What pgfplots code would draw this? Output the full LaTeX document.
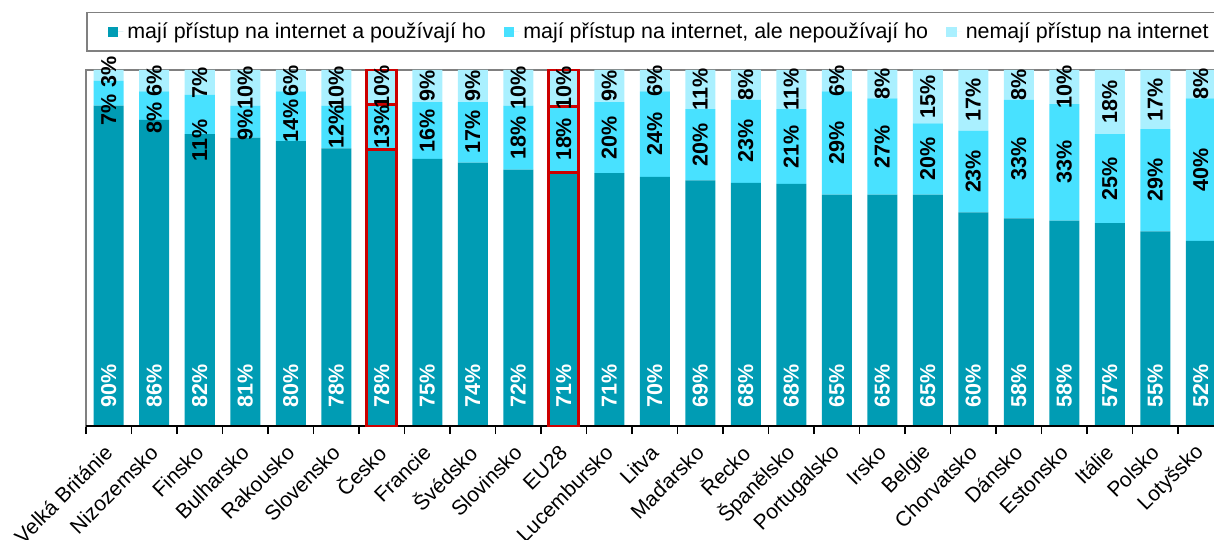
\documentclass[border=0pt]{standalone}
\usepackage{pgfplots}
\pgfplotsset{compat=1.18}
\usepackage{pgfplotstable}
\usepackage{fontspec}
\setmainfont{Liberation Sans}
\definecolor{cdark}{RGB}{0,156,180}
\definecolor{cmid}{RGB}{72,225,255}
\definecolor{clight}{RGB}{170,240,255}
\definecolor{cred}{RGB}{204,0,0}
\pgfplotstableread{
x a b c d e
0 90 7 3 -8.5 1.5
1 86 8 6 -6 0
2 82 11 7 -13 0
3 81 9 10 -1.5 0
4 80 14 6 -2.5 0
5 78 12 10 0 0
6 77.6 12.8 9.6 0 0
7 75 16 9 0 0
8 74 17 9 0 0
9 72 18 10 0 0
10 71.3 18.4 10.3 0 0
11 71 20 9 0 0
12 70 24 6 0 0
13 69 20 11 0 0
14 68.3 23.3 8.4 0 0
15 68 21 11 0 0
16 65 29 6 0 0
17 65 27 8 0 0
18 65 20 15 0 0
19 60 23 17 0 0
20 58.3 33.3 8.4 0 0
21 57.7 32.7 9.6 0 0
22 57 25 18 0 0
23 54.7 28.7 16.6 0 0
24 52 40 8 0 0
}\data
\pgfplotsset{
  common/.style={
    scale only axis, width=566.475bp, height=178bp,
    xmin=-0.5, xmax=24.4, ymin=0, ymax=100,
  },
  lblplot/.style={only marks, mark=*, mark size=0.1pt, mark options={draw opacity=0, fill opacity=0},
    point meta=explicit,
    nodes near coords={\pgfmathprintnumber[fixed,precision=0,assume math mode=true]{\pgfplotspointmeta}\%}},
}
\tikzset{lbl/.style={font=\bfseries\fontsize{10.8}{12}\selectfont, inner sep=0pt, opacity=1, text opacity=1}}
\begin{document}
\begin{tikzpicture}
\begin{axis}[common, ybar stacked, bar width=15bp,
  axis line style={draw=gray, line width=0.8bp},
  ytick=\empty,
  xtick={0,...,24},
  xticklabels={Velká Británie, Nizozemsko, Finsko, Bulharsko, Rakousko, Slovensko, Česko, Francie, Švédsko, Slovinsko, EU28, Lucembursko, Litva, Maďarsko, Řecko, Španělsko, Portugalsko, Irsko, Belgie, Chorvatsko, Dánsko, Estonsko, Itálie, Polsko, Lotyšsko},
  major tick length=0pt,
  minor xtick={-0.5,0.5,...,24.5},
  minor tick length=4bp,
  tick align=outside,
  xtick pos=left,
  minor tick style={black, line width=0.9bp},
  xticklabel style={rotate=45, anchor=east, inner sep=0pt, font=\fontsize{10.5}{12}\selectfont},
  xticklabel shift=11.5bp,
  legend columns=3,
  legend style={at={(0,1)}, anchor=south west, yshift=9bp, draw=gray, line width=0.8bp,
    font=\fontsize{10.75}{12}\selectfont, inner xsep=10.5bp, inner ysep=3bp,
    /tikz/every even column/.append style={column sep=7bp}},
  legend image code/.code={\path[#1,draw=none] (0bp,-2.6bp) rectangle (5.2bp,2.6bp); \path (0bp,0bp) -- (7.8bp,0bp);},
  after end axis/.code={
    \draw[black,line width=1bp] (rel axis cs:0,0) -- (rel axis cs:1,0);
    \coordinate (BL) at (rel axis cs:0,0);
    \coordinate (TL) at (rel axis cs:0,1);
  },
]
\addplot[fill=cdark, draw=none] table[x=x, y=a] {\data};
\addlegendentry{mají přístup na internet a používají ho}
\addplot[fill=cmid, draw=none] table[x=x, y=b] {\data};
\addlegendentry{mají přístup na internet, ale nepoužívají ho}
\addplot[fill=clight, draw=none] table[x=x, y=c] {\data};
\addlegendentry{nemají přístup na internet}
\end{axis}
\begin{axis}[common, ybar stacked, bar width=15bp, hide axis, clip=false]
\addplot[draw=cred, fill=none, line width=1.4bp] coordinates {(6,77.6) (10,71.3)};
\addplot[draw=cred, fill=none, line width=1.4bp] coordinates {(6,12.8) (10,18.4)};
\addplot[draw=cred, fill=none, line width=1.4bp] coordinates {(6,9.6) (10,10.3)};
\end{axis}
\begin{axis}[common, hide axis, clip=false]
\addplot[lblplot, every node near coord/.append style={lbl, text=white, rotate=90, anchor=west}]
  table[x=x, y expr=5.06, meta=a] {\data};
\addplot[lblplot, every node near coord/.append style={lbl, text=black, rotate=90, anchor=center}]
  table[x=x, y expr=\thisrow{a}+0.5*\thisrow{b}+\thisrow{d}/1.78, meta=b] {\data};
\addplot[lblplot, every node near coord/.append style={lbl, text=black, rotate=90, anchor=center}]
  table[x=x, y expr=\thisrow{a}+\thisrow{b}+0.5*\thisrow{c}+\thisrow{e}/1.78, meta=c] {\data};
\end{axis}
\pgfresetboundingbox
\path[use as bounding box] ([xshift=-43bp,yshift=-57bp]BL) rectangle ([xshift=564bp,yshift=35bp]TL);
\end{tikzpicture}
\end{document}
